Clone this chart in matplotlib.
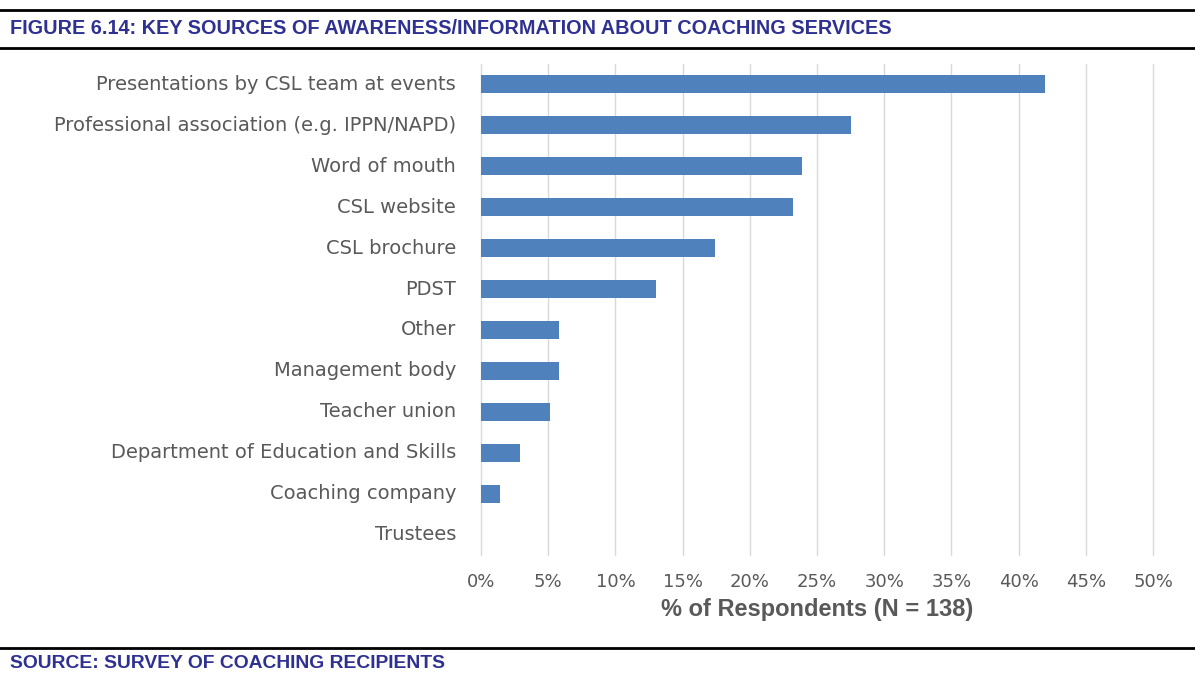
import matplotlib.pyplot as plt
from matplotlib.ticker import FuncFormatter, MultipleLocator

# ── Data ────────────────────────────────────────────────────────────────
categories = [
    "Presentations by CSL team at events",
    "Professional association (e.g. IPPN/NAPD)",
    "Word of mouth",
    "CSL website",
    "CSL brochure",
    "PDST",
    "Other",
    "Management body",
    "Teacher union",
    "Department of Education and Skills",
    "Coaching company",
    "Trustees",
]
pct_respondents = [42.0, 27.5, 23.9, 23.2, 17.4, 13.0, 5.8, 5.8, 5.1, 2.9, 1.4, 0.0]

BAR_C   = "#4F81BD"
GRID_C  = "#D9D9D9"
TEXT_C  = "#595959"
TITLE_C = "#2E3192"
HEAD_F  = ["Liberation Sans", "DejaVu Sans"]

fig = plt.figure(figsize=(11.95, 6.73), dpi=100)
ax = fig.add_axes([481 / 1195, 1 - 555 / 673, 672 / 1195, (555 - 64) / 673])

y = list(range(len(categories)))
ax.barh(y, pct_respondents, height=0.44, color=BAR_C, zorder=3)
ax.set_ylim(len(categories) - 0.5, -0.5)
ax.set_xlim(0, 50)

ax.set_yticks(y)
ax.set_yticklabels(categories, fontsize=14, color=TEXT_C, family="DejaVu Sans",
                   va="center")
ax.xaxis.set_major_locator(MultipleLocator(5))
ax.xaxis.set_major_formatter(FuncFormatter(lambda v, _: f"{v:.0f}%"))
for lbl in ax.get_xticklabels():
    lbl.set_fontsize(13)
    lbl.set_color(TEXT_C)
    lbl.set_family("DejaVu Sans")
ax.tick_params(axis="x", length=0, pad=13)
ax.tick_params(axis="y", length=0, pad=18)

ax.set_xlabel("% of Respondents (N = 138)", fontsize=17, fontweight="bold",
              color=TEXT_C, family=HEAD_F, labelpad=5)

ax.grid(axis="x", color=GRID_C, linewidth=1, zorder=0)
for gl in ax.get_xgridlines():
    gl.set_clip_on(False)
for s in ax.spines.values():
    s.set_visible(False)

# header / footer rules and text
for yy in (10, 48, 648):
    fig.add_artist(plt.Line2D([0, 1], [1 - yy / 673] * 2, color="black", lw=2,
                              transform=fig.transFigure))

fig.text(10 / 1195, 1 - 28 / 673,
         "FIGURE 6.14: KEY SOURCES OF AWARENESS/INFORMATION ABOUT COACHING SERVICES",
         fontsize=14.3, fontweight="bold", color=TITLE_C, va="center",
         family=HEAD_F)
fig.text(10 / 1195, 1 - 663 / 673, "SOURCE: SURVEY OF COACHING RECIPIENTS",
         fontsize=13.9, fontweight="bold", color=TITLE_C, va="center",
         family=HEAD_F)

fig.savefig("out.png", dpi=100, facecolor="white")
